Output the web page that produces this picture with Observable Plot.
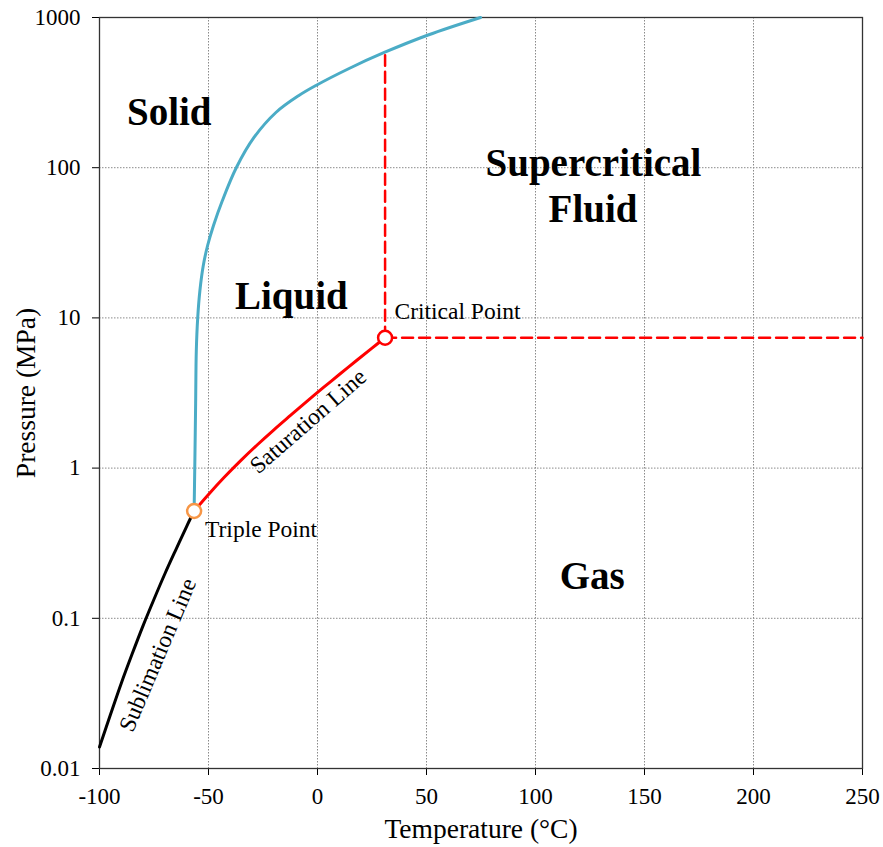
<!DOCTYPE html>
<html>
<head>
<meta charset="utf-8">
<script src="https://cdn.jsdelivr.net/npm/d3@7"></script>
<script src="https://cdn.jsdelivr.net/npm/@observablehq/plot@0.6"></script>
<style>
  body { margin: 0; background: #fff; }
  #chart svg { display: block; }
</style>
</head>
<body>
<div id="chart"></div>
<script>
// ---- Data ----
const xTicks = [-100, -50, 0, 50, 100, 150, 200, 250];
const yTicks = [0.01, 0.1, 1, 10, 100, 1000];

// Sublimation line (solid–gas)
const subT = [-100, -95, -90, -85, -80, -75, -70, -65, -60, -56.6];
const subP = [0.0139, 0.0228, 0.0370, 0.0580, 0.0894, 0.134, 0.198, 0.286, 0.410, 0.518];

// Saturation line (liquid–gas)
const satT = [-56.6, -50, -43, -35, -27.7, -20, -12.4, -5, 2.9, 10, 18.2, 25, 31];
const satP = [0.518, 0.668, 0.862, 1.130, 1.425, 1.798, 2.241, 2.771, 3.456, 4.20, 5.243, 6.291, 7.38];

// Melting line (solid–liquid)
const meltT = [-56.6, -56.3, -55.9, -55.6, -54.95, -53.94, -52.39, -50.41, -47.71, -43.62, -37.2, -29.13, -19.08, -8.53, -0.73, 14.5, 30.64, 50.73, 74.8];
const meltP = [0.518, 1.0, 2.7, 6.0, 10.0, 15.22, 22.33, 30.34, 41.23, 60.47, 100.3, 158.9, 233.1, 302.5, 352.7, 457.7, 584.8, 764.6, 1000];

// Special points
const tripleT = [-56.6], tripleP = [0.518];
const critT = [31], critP = [7.38];

// Critical isolines (dashed)
const critVertT = [31, 31], critVertP = [7.38, 560];
const critHorT = [31, 250], critHorP = [7.38, 7.38];

// Region labels
const regionNames = ["Solid", "Liquid", "Supercritical", "Fluid", "Gas"];
const regionT = [-68, -12, 126.6, 126.4, 126];
const regionP = [233, 13.9, 106, 52.5, 0.19];

// Point labels
const pointNames = ["Critical Point", "Triple Point"];
const pointT = [35.3, -51.6];
const pointP = [11.0, 0.39];

// Line labels
const lineNames = ["Saturation Line", "Sublimation Line"];
const lineT = [-4.3, -73.3];
const lineP = [2.05, 0.057];
const lineAngle = [-41, -67];

// ---- Helpers ----
const pts = (xs, ys) => xs.map((x, i) => ({x, y: ys[i]}));
const serif = "'Liberation Serif', 'Times New Roman', serif";

const chart = Plot.plot({
  width: 883,
  height: 847,
  marginLeft: 99,
  marginRight: 21,
  marginTop: 17,
  marginBottom: 79,
  style: {fontFamily: serif, fontSize: "23px", color: "#000", background: "#fff"},
  x: {domain: [-100, 250], label: null},
  y: {type: "log", domain: [0.01, 1000], label: null},
  marks: [
    Plot.gridX(xTicks.slice(1, -1), {stroke: "#8a8a8a", strokeOpacity: 1, strokeDasharray: "1.5,1.5"}),
    Plot.gridY(yTicks.slice(1, -1), {stroke: "#8a8a8a", strokeOpacity: 1, strokeDasharray: "1.5,1.5"}),
    Plot.axisX(xTicks, {tickSize: 7, tickPadding: 12, fontSize: 23, label: null, tickFormat: d => String(d)}),
    Plot.axisY(yTicks, {tickSize: 7, tickPadding: 12, fontSize: 23, label: null, tickFormat: d => String(d)}),
    Plot.frame({stroke: "#333", strokeWidth: 1.3}),
    // dashed critical lines
    Plot.line(pts(critVertT, critVertP), {x: "x", y: "y", stroke: "#ff0000", strokeWidth: 2.5, strokeDasharray: "11,6"}),
    Plot.line(pts(critHorT, critHorP), {x: "x", y: "y", stroke: "#ff0000", strokeWidth: 2.5, strokeDasharray: "11,6"}),
    // phase lines
    Plot.line(pts(subT, subP), {x: "x", y: "y", stroke: "#000", strokeWidth: 3, curve: "catmull-rom"}),
    Plot.line(pts(satT, satP), {x: "x", y: "y", stroke: "#ff0000", strokeWidth: 3, curve: "catmull-rom"}),
    Plot.line(pts(meltT, meltP), {x: "x", y: "y", stroke: "#4bacc6", strokeWidth: 3, curve: "catmull-rom"}),
    // points
    Plot.dot(pts(tripleT, tripleP), {x: "x", y: "y", r: 7, fill: "#fff", stroke: "#f79646", strokeWidth: 2.5}),
    Plot.dot(pts(critT, critP), {x: "x", y: "y", r: 7, fill: "#fff", stroke: "#ff0000", strokeWidth: 2.5}),
    // region labels
    Plot.text(regionNames.map((n, i) => ({n, x: regionT[i], y: regionP[i]})),
      {x: "x", y: "y", text: "n", fontSize: 39, fontWeight: "bold", fill: "#000", textAnchor: "middle"}),
    // point labels
    Plot.text(pointNames.map((n, i) => ({n, x: pointT[i], y: pointP[i]})),
      {x: "x", y: "y", text: "n", fontSize: 23.5, fill: "#000", textAnchor: "start"}),
    // line labels
    Plot.text(lineNames.map((n, i) => ({n, x: lineT[i], y: lineP[i], a: lineAngle[i]})),
      {x: "x", y: "y", text: "n", rotate: "a", fontSize: 23.5, fill: "#000", textAnchor: "middle"}),
    // axis titles
    Plot.text(["Temperature (°C)"], {frameAnchor: "bottom", dy: 69, fontSize: 27.5, fill: "#000", textAnchor: "middle"}),
    Plot.text(["Pressure (MPa)"], {frameAnchor: "left", dx: -73, rotate: -90, fontSize: 27.5, fill: "#000", textAnchor: "middle"})
  ]
});
document.getElementById("chart").appendChild(chart);
</script>
</body>
</html>
